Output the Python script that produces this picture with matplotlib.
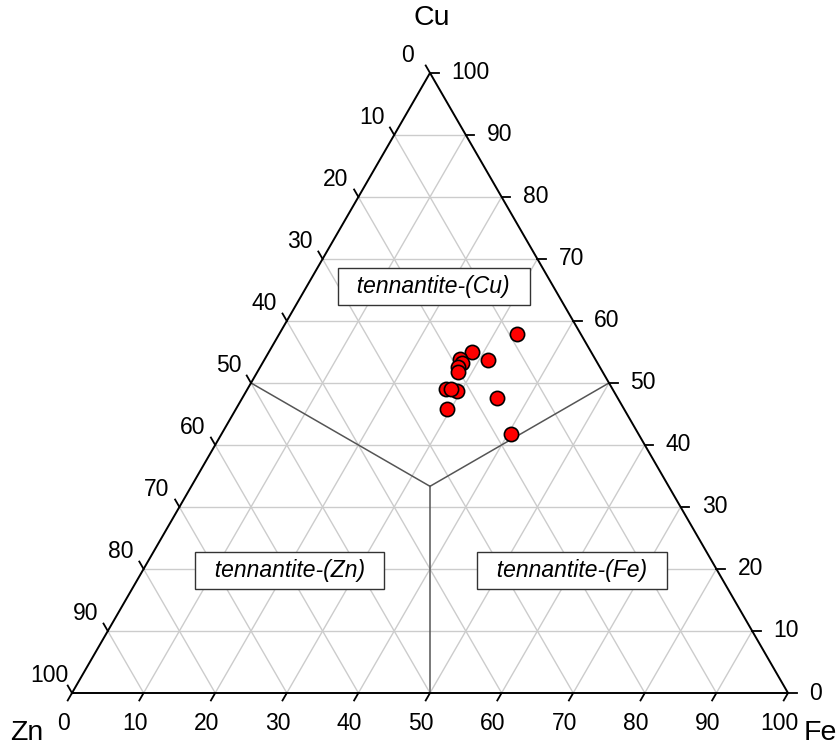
import numpy as np
import matplotlib
matplotlib.use("Agg")
import matplotlib.pyplot as plt
from matplotlib.transforms import offset_copy

plt.rcParams['font.family'] = ['Liberation Sans', 'DejaVu Sans']

# Data: compositions (Cu, Fe, Zn in %)
cu = [57.9, 55.0, 53.8, 53.7, 53.3, 52.5, 51.8, 49.1, 48.7, 49.0, 47.6, 45.8, 41.7]
fe = [33.2, 28.4, 27.3, 31.3, 27.8, 27.6, 28.0, 27.7, 29.4, 28.5, 35.6, 29.5, 40.5]
zn = [100 - c - f for c, f in zip(cu, fe)]
ticks = [0, 10, 20, 30, 40, 50, 60, 70, 80, 90, 100]
field_labels = ["tennantite-(Cu)", "tennantite-(Zn)", "tennantite-(Fe)"]
axis_titles = ["Cu", "Zn", "Fe"]

H = np.sqrt(3) / 2


def xy(c, f):
    c = np.asarray(c, float) / 100.0
    f = np.asarray(f, float) / 100.0
    return f + 0.5 * c, H * c


W, Hpx = 840, 747
fig = plt.figure(figsize=(W / 100, Hpx / 100), dpi=100)
ax = fig.add_axes([0, 0, 1, 1])
scale = 716.0
x0, ybase = 72.0, 693.0
ax.set_xlim(-x0 / scale, (W - x0) / scale)
ax.set_ylim(-(Hpx - ybase) / scale, ybase / scale)
ax.axis('off')

grid_c = '#cccccc'
for v in ticks[1:-1]:
    xa, ya = xy(v, 0)
    xb, yb = xy(v, 100 - v)
    ax.plot([xa, xb], [ya, yb], color=grid_c, lw=1, zorder=1)
    xa, ya = xy(0, v)
    xb, yb = xy(100 - v, v)
    ax.plot([xa, xb], [ya, yb], color=grid_c, lw=1, zorder=1)
    xa, ya = xy(0, 100 - v)
    xb, yb = xy(100 - v, 0)
    ax.plot([xa, xb], [ya, yb], color=grid_c, lw=1, zorder=1)

# field boundaries
cx, cy = xy(100 / 3, 100 / 3)
for c, f in [(50, 0), (50, 50), (0, 50)]:
    px, py = xy(c, f)
    ax.plot([cx, px], [cy, py], color='#555555', lw=1.1, zorder=2)

# triangle
tx, ty = xy([0, 0, 100, 0], [0, 100, 0, 0])
ax.plot(tx, ty, color='black', lw=1.4, zorder=3, solid_joinstyle='miter')

tfs = 16.5
tl = 0.012
for v in ticks:
    bx, by = xy(0, v)
    ax.plot([bx, bx - 0.5 * tl], [by, by - H * tl], color='black', lw=1.3, zorder=3)
    tr = offset_copy(ax.transData, fig=fig, x=-9, y=-30, units='dots')
    ax.text(bx, by, str(v), transform=tr, ha='center', va='center', fontsize=tfs)
    rx, ry = xy(v, 100 - v)
    ax.plot([rx, rx + tl], [ry, ry], color='black', lw=1.3, zorder=3)
    tr = offset_copy(ax.transData, fig=fig, x=21, y=0, units='dots')
    ax.text(rx, ry, str(v), transform=tr, ha='left', va='center', fontsize=tfs)
    lx, ly = xy(100 - v, 0)
    ax.plot([lx, lx - 0.5 * tl], [ly, ly + H * tl], color='black', lw=1.3, zorder=3)
    tr = offset_copy(ax.transData, fig=fig, x=-22.5, y=17.5, units='dots')
    ax.text(lx, ly, str(v), transform=tr, ha='center', va='center', fontsize=tfs)

# axis titles
afs = 20.5
topx, topy = xy(100, 0)
ax.text(topx, topy, axis_titles[0], fontsize=afs,
        transform=offset_copy(ax.transData, fig=fig, x=2, y=55, units='dots'),
        ha='center', va='center')
zx, zy = xy(0, 0)
ax.text(zx, zy, axis_titles[1], fontsize=afs,
        transform=offset_copy(ax.transData, fig=fig, x=-45, y=-40, units='dots'),
        ha='center', va='center')
fx, fy = xy(0, 100)
ax.text(fx, fy, axis_titles[2], fontsize=afs,
        transform=offset_copy(ax.transData, fig=fig, x=16, y=-40, units='dots'),
        ha='left', va='center')

# field labels
box = dict(boxstyle='square,pad=0.3', fc='white', ec='#333333', lw=1.0)
pos = [(65.6, 17.7), (19.8, 20.5), (19.8, 59.9)]
for lab, (c, f) in zip(field_labels, pos):
    px, py = xy(c, f)
    ax.text(px, py, "  " + lab + "  ", style='italic', fontsize=tfs,
            ha='center', va='center', bbox=box, zorder=4)

# points
px, py = xy(cu, fe)
ax.scatter(px, py, s=105, c='#ff0000', edgecolors='black', linewidths=1.2, zorder=5)

fig.savefig('out.png', dpi=100)
